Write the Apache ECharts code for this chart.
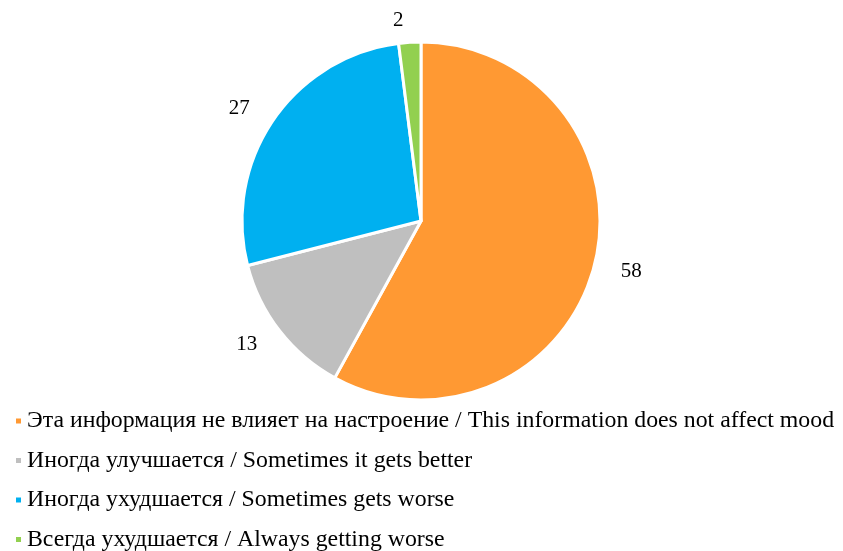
<!DOCTYPE html>
<html>
<head>
<meta charset="utf-8">
<script src="https://cdn.jsdelivr.net/npm/echarts@6/dist/echarts.min.js"></script>
<style>
    html, body { margin: 0; padding: 0; background: #fff; }
    #chart { width: 843px; height: 551px; }
</style>
</head>
<body>
<div id="chart"></div>
<script>
const categories = [
    'Эта информация не влияет на настроение / This information does not affect mood',
    'Иногда улучшается / Sometimes it gets better',
    'Иногда ухудшается / Sometimes gets worse',
    'Всегда ухудшается / Always getting worse'
];
const values = [58, 13, 27, 2];
const colors = ['#FF9933', '#BFBFBF', '#00B0F0', '#92D050'];

const chart = echarts.init(document.getElementById('chart'));
const option = {
    animation: false,
    textStyle: { fontFamily: 'Liberation Serif' },
    legend: {
        orient: 'vertical',
        left: 9,
        top: 404,
        height: 200,
        itemWidth: 7,
        itemHeight: 7,
        itemGap: 15.5,
        icon: 'rect',
        data: categories,
        textStyle: { fontFamily: 'Liberation Serif', fontSize: 23.8, color: '#000' }
    },
    series: [{
        type: 'pie',
        center: [421, 221],
        radius: [0, 179],
        startAngle: 90,
        clockwise: true,
        data: categories.map((name, i) => ({
            name: name,
            value: values[i],
            itemStyle: { color: colors[i] }
        })),
        itemStyle: { borderColor: '#fff', borderWidth: 3 },
        label: {
            show: true,
            position: 'outside',
            formatter: '{c}',
            fontFamily: 'Liberation Serif',
            fontSize: 21,
            color: '#000'
        },
        labelLine: { show: false, length: 22, length2: 0 }
    }]
};
chart.setOption(option);
</script>
</body>
</html>
